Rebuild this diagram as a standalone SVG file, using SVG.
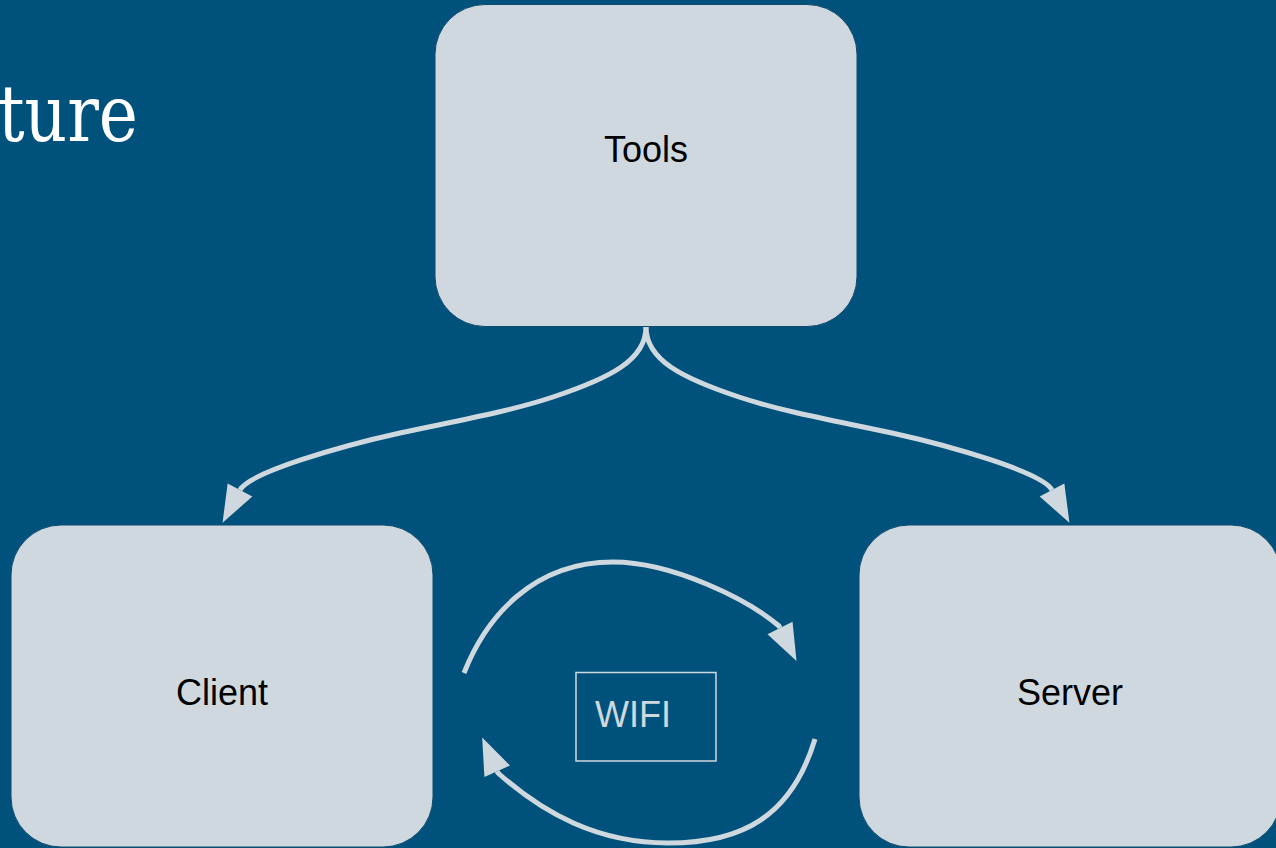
<svg xmlns="http://www.w3.org/2000/svg" width="1276" height="848" viewBox="0 0 1276 848">
  <style>
    .box { fill: #CFD8DE; stroke: #0E4A6E; stroke-width: 1; }
    .label { font-family: "Liberation Sans", Arial, sans-serif; font-size: 36px; fill: #000000; text-anchor: middle; }
    .conn { fill: none; stroke: #CFD8DE; stroke-width: 5; }
    .title { font-family: "DejaVu Serif", "Liberation Serif", serif; font-size: 78px; fill: #FFFFFF; }
  </style>
  <defs>
    <marker id="arrow" markerUnits="userSpaceOnUse" viewBox="0 -15 40 30" markerWidth="40" markerHeight="30" refX="0" refY="0" orient="auto" overflow="visible">
      <path d="M0,-14 L37,0 L0,14 Z" fill="#CFD8DE"/>
    </marker>
  </defs>
  <rect x="0" y="0" width="1276" height="848" fill="#00527C"/>
  <text class="title" x="138" y="141" text-anchor="end" textLength="140" lengthAdjust="spacingAndGlyphs">ture</text>

  <g id="connectors">
    <path class="conn" marker-end="url(#arrow)" d="M646,327 C646,360 610,378 553,397 C505.5,412.8 448.8,422.25 400,433 C341.4,445.9 249.4,472.4 240,490"/>
    <path class="conn" marker-end="url(#arrow)" d="M646,327 C646,360 682,378 739,397 C786.5,412.8 843.2,422.25 892,433 C950.6,445.9 1042.6,472.4 1052,490"/>
    <path class="conn" marker-end="url(#arrow)" d="M464,673 C486,617 533,562 613,562 C673,562 748.6,600 779,626 L780,628"/>
    <path class="conn" marker-end="url(#arrow)" d="M815,739 C791.8,815.8 743,843 668,843 C598,843 543.8,813.8 498,773 L497.2,771.2"/>
  </g>

  <g id="node-tools">
    <rect class="box" x="435" y="4.5" width="422" height="322" rx="50" ry="50"/>
    <text class="label" x="646" y="162">Tools</text>
  </g>
  <g id="node-client">
    <rect class="box" x="11" y="525" width="422" height="322" rx="50" ry="50"/>
    <text class="label" x="222" y="705">Client</text>
  </g>
  <g id="node-server">
    <rect class="box" x="859" y="525" width="422" height="322" rx="50" ry="50"/>
    <text class="label" x="1070" y="705">Server</text>
  </g>
  <g id="node-wifi">
    <rect x="576" y="672.5" width="140" height="88.5" fill="none" stroke="#CFD8DE" stroke-width="1.5"/>
    <text x="595" y="727" font-family="Liberation Sans, Arial, sans-serif" font-size="36" fill="#CFD8DE">WIFI</text>
  </g>
</svg>
